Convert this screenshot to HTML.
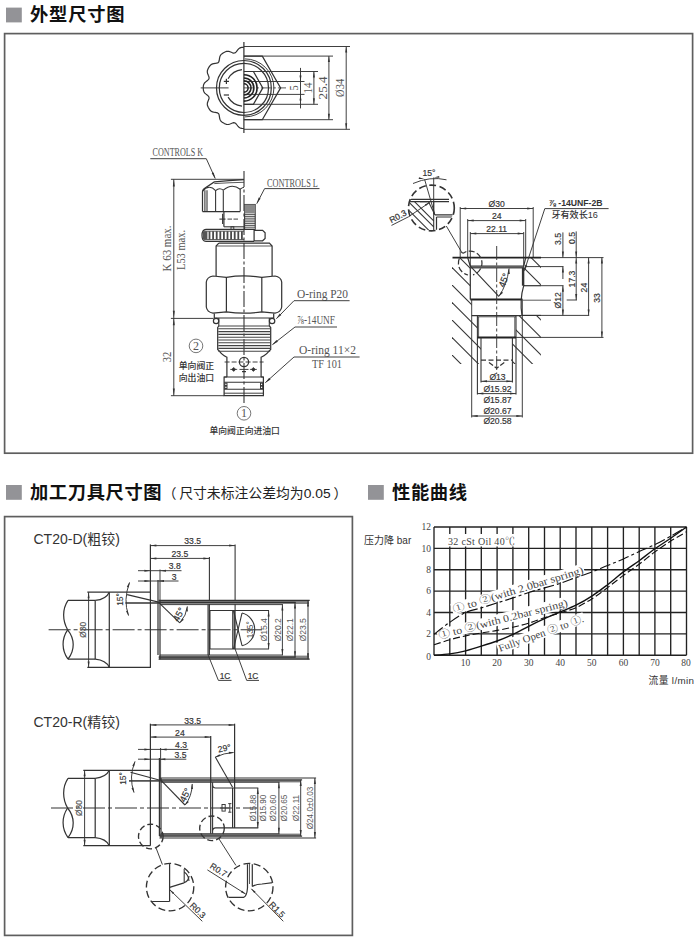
<!DOCTYPE html>
<html lang="zh"><head><meta charset="utf-8"><title>外型尺寸图</title>
<style>html,body{margin:0;padding:0;background:#fff}svg{display:block}</style></head>
<body><svg width="700" height="945" viewBox="0 0 700 945">
<rect width="700" height="945" fill="#fff"/>
<rect x="4.6" y="33.6" width="688.0" height="419.6" rx="0" fill="none" stroke="#5e5e5e" stroke-width="1.69"/>
<rect x="4.6" y="516.6" width="347.8" height="418.8" rx="0" fill="none" stroke="#5e5e5e" stroke-width="1.69"/>
<rect x="6" y="7.6" width="15.8" height="14.8" fill="#939397"/>
<rect x="6" y="485" width="15.8" height="14.8" fill="#939397"/>
<rect x="368" y="485" width="15.8" height="14.8" fill="#939397"/>
<text x="30.0" y="21.0" font-family='"Liberation Sans","Noto Sans CJK SC",sans-serif' font-size="18.3" text-anchor="start" fill="#111" font-weight="bold" letter-spacing="0.8">外型尺寸图</text>
<text x="30.0" y="499.2" font-family='"Liberation Sans","Noto Sans CJK SC",sans-serif' font-size="18.3" text-anchor="start" fill="#111" font-weight="bold" letter-spacing="0.6">加工刀具尺寸图</text>
<text x="162.8" y="497.5" font-family='"Liberation Sans","Noto Sans CJK SC",sans-serif' font-size="13.7" text-anchor="start" fill="#222">（</text>
<text x="179.2" y="497.5" font-family='"Liberation Sans","Noto Sans CJK SC",sans-serif' font-size="13.7" text-anchor="start" fill="#222" textLength="151.4" lengthAdjust="spacingAndGlyphs">尺寸未标注公差均为0.05</text>
<text x="333.6" y="497.5" font-family='"Liberation Sans","Noto Sans CJK SC",sans-serif' font-size="13.7" text-anchor="start" fill="#222">）</text>
<text x="392.0" y="499.2" font-family='"Liberation Sans","Noto Sans CJK SC",sans-serif' font-size="18.3" text-anchor="start" fill="#111" font-weight="bold" letter-spacing="0.6">性能曲线</text>
<line x1="434.0" y1="527.0" x2="434.0" y2="655.2" stroke="#222" stroke-width="1.35"/>
<line x1="449.8" y1="527.0" x2="449.8" y2="655.2" stroke="#222" stroke-width="1.35"/>
<line x1="465.6" y1="527.0" x2="465.6" y2="655.2" stroke="#222" stroke-width="1.35"/>
<line x1="481.3" y1="527.0" x2="481.3" y2="655.2" stroke="#222" stroke-width="1.35"/>
<line x1="497.1" y1="527.0" x2="497.1" y2="655.2" stroke="#222" stroke-width="1.35"/>
<line x1="512.9" y1="527.0" x2="512.9" y2="655.2" stroke="#222" stroke-width="1.35"/>
<line x1="528.7" y1="527.0" x2="528.7" y2="655.2" stroke="#222" stroke-width="1.35"/>
<line x1="544.5" y1="527.0" x2="544.5" y2="655.2" stroke="#222" stroke-width="1.35"/>
<line x1="560.2" y1="527.0" x2="560.2" y2="655.2" stroke="#222" stroke-width="1.35"/>
<line x1="576.0" y1="527.0" x2="576.0" y2="655.2" stroke="#222" stroke-width="1.35"/>
<line x1="591.8" y1="527.0" x2="591.8" y2="655.2" stroke="#222" stroke-width="1.35"/>
<line x1="607.6" y1="527.0" x2="607.6" y2="655.2" stroke="#222" stroke-width="1.35"/>
<line x1="623.4" y1="527.0" x2="623.4" y2="655.2" stroke="#222" stroke-width="1.35"/>
<line x1="639.2" y1="527.0" x2="639.2" y2="655.2" stroke="#222" stroke-width="1.35"/>
<line x1="654.9" y1="527.0" x2="654.9" y2="655.2" stroke="#222" stroke-width="1.35"/>
<line x1="670.7" y1="527.0" x2="670.7" y2="655.2" stroke="#222" stroke-width="1.35"/>
<line x1="686.5" y1="527.0" x2="686.5" y2="655.2" stroke="#222" stroke-width="1.35"/>
<line x1="434.0" y1="655.2" x2="686.5" y2="655.2" stroke="#222" stroke-width="1.35"/>
<line x1="434.0" y1="633.8" x2="686.5" y2="633.8" stroke="#222" stroke-width="1.35"/>
<line x1="434.0" y1="612.5" x2="686.5" y2="612.5" stroke="#222" stroke-width="1.35"/>
<line x1="434.0" y1="591.1" x2="686.5" y2="591.1" stroke="#222" stroke-width="1.35"/>
<line x1="434.0" y1="569.7" x2="686.5" y2="569.7" stroke="#222" stroke-width="1.35"/>
<line x1="434.0" y1="548.4" x2="686.5" y2="548.4" stroke="#222" stroke-width="1.35"/>
<line x1="434.0" y1="527.0" x2="686.5" y2="527.0" stroke="#222" stroke-width="1.35"/>
<text x="431.0" y="659.9" font-family='"Liberation Serif","Noto Serif CJK SC",serif' font-size="9.5" text-anchor="end" fill="#444">0</text>
<text x="431.0" y="637.0" font-family='"Liberation Serif","Noto Serif CJK SC",serif' font-size="9.5" text-anchor="end" fill="#444">2</text>
<text x="431.0" y="615.7" font-family='"Liberation Serif","Noto Serif CJK SC",serif' font-size="9.5" text-anchor="end" fill="#444">4</text>
<text x="431.0" y="594.3" font-family='"Liberation Serif","Noto Serif CJK SC",serif' font-size="9.5" text-anchor="end" fill="#444">6</text>
<text x="431.0" y="572.9" font-family='"Liberation Serif","Noto Serif CJK SC",serif' font-size="9.5" text-anchor="end" fill="#444">8</text>
<text x="431.0" y="551.6" font-family='"Liberation Serif","Noto Serif CJK SC",serif' font-size="9.5" text-anchor="end" fill="#444">10</text>
<text x="431.0" y="530.2" font-family='"Liberation Serif","Noto Serif CJK SC",serif' font-size="9.5" text-anchor="end" fill="#444">12</text>
<text x="465.6" y="666.0" font-family='"Liberation Serif","Noto Serif CJK SC",serif' font-size="9.5" text-anchor="middle" fill="#444">10</text>
<text x="497.1" y="666.0" font-family='"Liberation Serif","Noto Serif CJK SC",serif' font-size="9.5" text-anchor="middle" fill="#444">20</text>
<text x="528.7" y="666.0" font-family='"Liberation Serif","Noto Serif CJK SC",serif' font-size="9.5" text-anchor="middle" fill="#444">30</text>
<text x="560.2" y="666.0" font-family='"Liberation Serif","Noto Serif CJK SC",serif' font-size="9.5" text-anchor="middle" fill="#444">40</text>
<text x="591.8" y="666.0" font-family='"Liberation Serif","Noto Serif CJK SC",serif' font-size="9.5" text-anchor="middle" fill="#444">50</text>
<text x="623.4" y="666.0" font-family='"Liberation Serif","Noto Serif CJK SC",serif' font-size="9.5" text-anchor="middle" fill="#444">60</text>
<text x="654.9" y="666.0" font-family='"Liberation Serif","Noto Serif CJK SC",serif' font-size="9.5" text-anchor="middle" fill="#444">70</text>
<text x="686.0" y="666.0" font-family='"Liberation Serif","Noto Serif CJK SC",serif' font-size="9.5" text-anchor="middle" fill="#444">80</text>
<text x="364.0" y="543.8" font-family='"Liberation Sans","Noto Sans CJK SC",sans-serif' font-size="10" text-anchor="start" fill="#333">压力降 bar</text>
<text x="648.5" y="684.0" font-family='"Liberation Sans","Noto Sans CJK SC",sans-serif' font-size="9.8" text-anchor="start" fill="#333" letter-spacing="0.35">流量 l/min</text>
<rect x="444" y="534" width="74" height="12.5" fill="#fff"/>
<rect x="-1" y="-6" width="138" height="11.5" fill="#fff" transform="translate(453 609.5) rotate(-17.1)"/>
<rect x="-1" y="-6" width="135" height="11.5" fill="#fff" transform="translate(438.5 635.5) rotate(-14.4)"/>
<rect x="-1" y="-6" width="92" height="11.5" fill="#fff" transform="translate(498.7 648.5) rotate(-19.7)"/>
<path d="M434.0,655.2 C436.6,655.0 444.5,654.5 449.8,653.8 C455.0,653.1 460.3,652.1 465.6,650.8 C470.8,649.5 476.1,647.8 481.3,646.1 C486.6,644.5 491.9,642.9 497.1,641.0 C502.4,639.0 507.6,636.8 512.9,634.4 C518.2,631.9 523.4,629.0 528.7,626.4 C533.9,623.7 539.2,621.1 544.5,618.7 C549.7,616.3 555.0,614.2 560.2,611.9 C565.5,609.7 570.8,607.8 576.0,605.2 C581.3,602.6 586.6,599.5 591.8,596.1 C597.1,592.7 602.3,588.7 607.6,584.7 C612.9,580.6 618.1,575.9 623.4,571.9 C628.6,567.9 633.9,564.5 639.2,560.7 C644.4,556.8 649.7,552.5 654.9,548.8 C660.2,545.1 665.5,541.8 670.7,538.2 C676.0,534.6 683.9,528.9 686.5,527.0" fill="none" stroke="#111" stroke-width="1.35"/>
<path d="M434.0,644.8 C436.6,644.0 444.5,641.3 449.8,639.8 C455.0,638.3 460.3,637.0 465.6,635.9 C470.8,634.7 476.1,633.9 481.3,633.0 C486.6,632.1 491.9,631.4 497.1,630.4 C502.4,629.5 507.6,628.4 512.9,627.2 C518.2,626.0 523.4,624.7 528.7,623.2 C533.9,621.6 539.2,619.5 544.5,617.8 C549.7,616.1 555.0,614.5 560.2,612.8 C565.5,611.1 570.8,610.0 576.0,607.7 C581.3,605.3 586.6,602.2 591.8,598.9 C597.1,595.6 602.3,591.5 607.6,587.6 C612.9,583.7 618.1,579.3 623.4,575.4 C628.6,571.5 633.9,568.1 639.2,564.2 C644.4,560.3 649.7,555.7 654.9,551.9 C660.2,548.0 665.5,544.4 670.7,541.1 C676.0,537.8 683.9,533.4 686.5,531.8" fill="none" stroke="#111" stroke-width="1.15" stroke-dasharray="7 3"/>
<path d="M434.0,634.3 C436.6,632.3 444.5,625.9 449.8,622.3 C455.0,618.7 460.3,614.9 465.6,612.5 C470.8,610.1 476.1,609.5 481.3,607.9 C486.6,606.3 491.9,604.5 497.1,602.9 C502.4,601.2 507.6,599.7 512.9,597.9 C518.2,596.2 523.4,594.2 528.7,592.5 C533.9,590.8 539.2,589.4 544.5,587.9 C549.7,586.4 555.0,585.0 560.2,583.3 C565.5,581.6 570.8,579.4 576.0,577.5 C581.3,575.6 586.6,573.9 591.8,571.9 C597.1,569.9 602.3,567.6 607.6,565.5 C612.9,563.3 618.1,561.4 623.4,559.0 C628.6,556.7 633.9,554.0 639.2,551.6 C644.4,549.2 649.7,547.2 654.9,544.6 C660.2,542.1 665.5,539.1 670.7,536.2 C676.0,533.2 683.9,528.5 686.5,527.0" fill="none" stroke="#111" stroke-width="1.15" stroke-dasharray="11 3 3 3"/>
<text x="448.0" y="545.0" font-family='"Liberation Serif","Noto Serif CJK SC",serif' font-size="10" text-anchor="start" fill="#444" letter-spacing="0.3">32 cSt Oil 40℃</text>
<text x="0" y="3.6" font-family='"Liberation Serif","Noto Serif CJK SC",serif' font-size="10.5" fill="#444" textLength="136" lengthAdjust="spacingAndGlyphs" transform="translate(453 609.5) rotate(-17.1)">① to ②(with 2.0bar spring)</text>
<text x="0" y="3.6" font-family='"Liberation Serif","Noto Serif CJK SC",serif' font-size="10.5" fill="#444" textLength="133" lengthAdjust="spacingAndGlyphs" transform="translate(438.5 635.5) rotate(-14.4)">① to ②(with 0.2bar spring)</text>
<text x="0" y="3.6" font-family='"Liberation Serif","Noto Serif CJK SC",serif' font-size="10.5" fill="#444" textLength="90" lengthAdjust="spacingAndGlyphs" transform="translate(498.7 648.5) rotate(-19.7)">Fully Open ② to ①.</text>
<line x1="243.9" y1="46.5" x2="350.0" y2="46.5" stroke="#333" stroke-width="0.94"/>
<line x1="243.9" y1="56.1" x2="333.0" y2="56.1" stroke="#333" stroke-width="0.94"/>
<line x1="243.9" y1="71.5" x2="318.0" y2="71.5" stroke="#333" stroke-width="0.94"/>
<line x1="243.9" y1="81.5" x2="304.5" y2="81.5" stroke="#333" stroke-width="0.94"/>
<line x1="243.9" y1="94.4" x2="304.5" y2="94.4" stroke="#333" stroke-width="0.94"/>
<line x1="243.9" y1="104.3" x2="318.0" y2="104.3" stroke="#333" stroke-width="0.94"/>
<line x1="243.9" y1="119.7" x2="333.0" y2="119.7" stroke="#333" stroke-width="0.94"/>
<line x1="243.9" y1="129.3" x2="350.0" y2="129.3" stroke="#333" stroke-width="0.94"/>
<line x1="243.9" y1="42.0" x2="243.9" y2="133.0" stroke="#333" stroke-width="1.22"/>
<line x1="200.7" y1="87.9" x2="228.6" y2="87.9" stroke="#333" stroke-width="0.94"/>
<line x1="243.9" y1="87.9" x2="286.0" y2="87.9" stroke="#333" stroke-width="0.81" stroke-dasharray="10 2 3 2"/>
<path d="M243.9,47.3 L242.8,47.3 L241.8,47.4 L240.7,47.6 L239.7,48.1 L238.7,48.8 L237.9,49.7 L237.0,50.8 L236.2,51.8 L235.4,52.6 L234.6,53.0 L233.6,53.1 L232.5,52.8 L231.3,52.3 L230.0,51.8 L228.8,51.4 L227.6,51.3 L226.5,51.4 L225.5,51.8 L224.5,52.2 L223.6,52.7 L222.7,53.3 L221.8,53.9 L221.0,54.6 L220.4,55.5 L219.9,56.6 L219.6,57.8 L219.4,59.2 L219.2,60.5 L218.9,61.6 L218.4,62.4 L217.6,62.9 L216.5,63.2 L215.2,63.4 L213.8,63.6 L212.6,63.9 L211.5,64.4 L210.6,65.0 L209.9,65.8 L209.3,66.7 L208.7,67.6 L208.2,68.5 L207.8,69.5 L207.4,70.5 L207.3,71.6 L207.4,72.8 L207.8,74.0 L208.3,75.3 L208.8,76.5 L209.1,77.6 L209.0,78.6 L208.6,79.4 L207.8,80.2 L206.8,81.0 L205.7,81.9 L204.8,82.7 L204.1,83.7 L203.6,84.7 L203.4,85.8 L203.3,86.8 L203.3,87.9 L203.3,89.0 L203.4,90.0 L203.6,91.1 L204.1,92.1 L204.8,93.1 L205.7,93.9 L206.8,94.8 L207.8,95.6 L208.6,96.4 L209.0,97.2 L209.1,98.2 L208.8,99.3 L208.3,100.5 L207.8,101.8 L207.4,103.0 L207.3,104.2 L207.4,105.3 L207.8,106.3 L208.2,107.3 L208.7,108.2 L209.3,109.1 L209.9,110.0 L210.6,110.8 L211.5,111.4 L212.6,111.9 L213.8,112.2 L215.2,112.4 L216.5,112.6 L217.6,112.9 L218.4,113.4 L218.9,114.2 L219.2,115.3 L219.4,116.6 L219.6,118.0 L219.9,119.2 L220.4,120.3 L221.0,121.2 L221.8,121.9 L222.7,122.5 L223.6,123.1 L224.5,123.6 L225.5,124.0 L226.5,124.4 L227.6,124.5 L228.8,124.4 L230.0,124.0 L231.3,123.5 L232.5,123.0 L233.6,122.7 L234.6,122.8 L235.4,123.2 L236.2,124.0 L237.0,125.0 L237.9,126.1 L238.7,127.0 L239.7,127.7 L240.7,128.2 L241.8,128.4 L242.8,128.5 L243.9,128.5" fill="none" stroke="#333" stroke-width="1.2" stroke-linejoin="round"/>
<circle cx="243.9" cy="87.9" r="27.4" fill="none" stroke="#333" stroke-width="1.22"/>
<circle cx="243.9" cy="87.9" r="24.6" fill="none" stroke="#333" stroke-width="1.22"/>
<path d="M244.9,58.9 A29,29 0 0 1 244.9,116.9" fill="none" stroke="#333" stroke-width="0.94"/>
<path d="M242.0,69.7 A18.3,18.3 0 0 0 228.1,78.8" fill="none" stroke="#333" stroke-width="1.22"/>
<path d="M228.1,97.1 A18.3,18.3 0 0 0 242.0,106.1" fill="none" stroke="#333" stroke-width="1.22"/>
<line x1="223.8" y1="81.4" x2="229.0" y2="81.4" stroke="#333" stroke-width="1.22"/>
<line x1="226.4" y1="78.8" x2="226.4" y2="84.0" stroke="#333" stroke-width="1.22"/>
<line x1="223.8" y1="95.0" x2="229.0" y2="95.0" stroke="#333" stroke-width="1.22"/>
<path d="M243.9,56.1 L262.3,56.1 L280.6,87.9 L262.3,119.7 L243.9,119.7" fill="none" stroke="#333" stroke-width="1.22"/>
<path d="M243.9,71.5 L253.4,71.5 L262.8,87.9 L253.4,104.3 L243.9,104.3" fill="none" stroke="#333" stroke-width="1.22"/>
<path d="M243.9,83.7 A4.2,4.2 0 0 1 243.9,92.1" fill="none" stroke="#222" stroke-width="1.55"/>
<path d="M243.9,80.8 A7.1,7.1 0 0 1 243.9,95.0" fill="none" stroke="#222" stroke-width="1.55"/>
<path d="M243.9,77.9 A10,10 0 0 1 243.9,97.9" fill="none" stroke="#222" stroke-width="1.55"/>
<path d="M243.9,74.7 A13.2,13.2 0 0 1 243.9,101.1" fill="none" stroke="#222" stroke-width="1.55"/>
<line x1="300.5" y1="67.9" x2="300.5" y2="108.4" stroke="#333" stroke-width="0.94"/>
<polygon points="300.5,81.5 299.5,75.5 301.5,75.5" fill="#333"/>
<polygon points="300.5,94.4 301.5,100.4 299.5,100.4" fill="#333"/>
<line x1="313.9" y1="71.5" x2="313.9" y2="104.3" stroke="#333" stroke-width="0.94"/>
<polygon points="313.9,71.5 314.9,77.5 312.9,77.5" fill="#333"/>
<polygon points="313.9,104.3 312.9,98.3 314.9,98.3" fill="#333"/>
<line x1="328.9" y1="56.1" x2="328.9" y2="119.7" stroke="#333" stroke-width="0.94"/>
<polygon points="328.9,56.1 329.9,62.1 327.9,62.1" fill="#333"/>
<polygon points="328.9,119.7 327.9,113.7 329.9,113.7" fill="#333"/>
<line x1="346.2" y1="46.5" x2="346.2" y2="129.3" stroke="#333" stroke-width="0.94"/>
<polygon points="346.2,46.5 347.2,52.5 345.2,52.5" fill="#333"/>
<polygon points="346.2,129.3 345.2,123.3 347.2,123.3" fill="#333"/>
<text x="0" y="0" font-family='"Liberation Serif","Noto Serif CJK SC",serif' font-size="11" text-anchor="middle" fill="#555" transform="translate(298.3 87.9) rotate(-90) scale(1 1.1)">5</text>
<text x="0" y="0" font-family='"Liberation Serif","Noto Serif CJK SC",serif' font-size="11" text-anchor="middle" fill="#555" transform="translate(311.6 87.9) rotate(-90) scale(1 1.1)">14</text>
<text x="0" y="0" font-family='"Liberation Serif","Noto Serif CJK SC",serif' font-size="11" text-anchor="middle" fill="#555" textLength="23.0" lengthAdjust="spacingAndGlyphs" transform="translate(326.8 87.9) rotate(-90) scale(1 1.1)">25.4</text>
<text x="0" y="0" font-family='"Liberation Serif","Noto Serif CJK SC",serif' font-size="11" text-anchor="middle" fill="#555" textLength="18.0" lengthAdjust="spacingAndGlyphs" transform="translate(344.2 87.9) rotate(-90) scale(1 1.1)">Ø34</text>
<line x1="244.0" y1="171.0" x2="244.0" y2="403.0" stroke="#333" stroke-width="1.08" stroke-dasharray="16 2.5 3 2.5"/>
<text x="0" y="0" font-family='"Liberation Serif","Noto Serif CJK SC",serif' font-size="10.5" text-anchor="start" fill="#555" textLength="50.5" lengthAdjust="spacingAndGlyphs" transform="translate(152.6 155.5) scale(1 1.15)">CONTROLS K</text>
<line x1="150.3" y1="158.7" x2="206.3" y2="158.7" stroke="#333" stroke-width="0.94"/>
<line x1="206.3" y1="158.7" x2="215.2" y2="178.4" stroke="#333" stroke-width="0.94"/>
<polygon points="215.4,178.9 211.7,173.3 213.7,172.4" fill="#333"/>
<text x="0" y="0" font-family='"Liberation Serif","Noto Serif CJK SC",serif' font-size="10.5" text-anchor="start" fill="#555" textLength="51.0" lengthAdjust="spacingAndGlyphs" transform="translate(266.9 186.5) scale(1 1.15)">CONTROLS L</text>
<line x1="264.6" y1="188.6" x2="319.5" y2="188.6" stroke="#333" stroke-width="0.94"/>
<line x1="264.6" y1="188.6" x2="256.8" y2="203.6" stroke="#333" stroke-width="0.94"/>
<polygon points="256.6,204.0 258.7,197.6 260.6,198.6" fill="#333"/>
<line x1="170.9" y1="179.3" x2="244.0" y2="179.3" stroke="#333" stroke-width="0.94"/>
<line x1="170.9" y1="318.4" x2="213.5" y2="318.4" stroke="#333" stroke-width="0.94"/>
<line x1="170.9" y1="395.7" x2="224.0" y2="395.7" stroke="#333" stroke-width="0.94"/>
<line x1="173.8" y1="179.3" x2="173.8" y2="318.0" stroke="#333" stroke-width="0.94"/>
<polygon points="173.8,179.3 174.8,186.5 172.8,186.5" fill="#333"/>
<polygon points="173.8,318.0 172.8,310.8 174.8,310.8" fill="#333"/>
<line x1="173.8" y1="318.0" x2="173.8" y2="395.7" stroke="#333" stroke-width="0.94"/>
<polygon points="173.8,318.0 174.8,325.2 172.8,325.2" fill="#333"/>
<polygon points="173.8,395.7 172.8,388.5 174.8,388.5" fill="#333"/>
<text x="0" y="0" font-family='"Liberation Serif","Noto Serif CJK SC",serif' font-size="10.5" text-anchor="middle" fill="#555" textLength="46.0" lengthAdjust="spacingAndGlyphs" transform="translate(171.2 248.5) rotate(-90) scale(1 1.15)">K 63 max.</text>
<text x="0" y="0" font-family='"Liberation Serif","Noto Serif CJK SC",serif' font-size="10.5" text-anchor="middle" fill="#555" textLength="40.0" lengthAdjust="spacingAndGlyphs" transform="translate(185.0 250.0) rotate(-90) scale(1 1.15)">L53 max.</text>
<text x="0" y="0" font-family='"Liberation Serif","Noto Serif CJK SC",serif' font-size="10.5" text-anchor="middle" fill="#555" transform="translate(171.2 357.0) rotate(-90) scale(1 1.15)">32</text>
<path d="M202.5,211.6 L202.5,191.5 Q202.6,189.8 204,188.8 L214.3,181.9 Q229,180.3 244,179.6" fill="none" stroke="#333" stroke-width="1.22"/>
<path d="M214.3,183.6 Q229,182.6 244,182.3" fill="none" stroke="#333" stroke-width="0.81"/>
<line x1="202.5" y1="211.6" x2="240.2" y2="211.6" stroke="#333" stroke-width="1.22"/>
<line x1="204.9" y1="190.2" x2="204.9" y2="211.6" stroke="#333" stroke-width="1.08"/>
<line x1="207.0" y1="190.2" x2="207.0" y2="211.6" stroke="#333" stroke-width="1.08"/>
<line x1="215.6" y1="190.2" x2="215.6" y2="211.6" stroke="#333" stroke-width="1.08"/>
<line x1="223.3" y1="190.2" x2="223.3" y2="211.6" stroke="#333" stroke-width="1.08"/>
<line x1="240.2" y1="189.0" x2="240.2" y2="211.6" stroke="#333" stroke-width="1.08"/>
<path d="M202.5,191.5 Q209,183.6 215.6,190.6" fill="none" stroke="#333" stroke-width="1.08"/>
<path d="M215.6,190.6 Q219.5,187 223.3,190.2" fill="none" stroke="#333" stroke-width="1.08"/>
<path d="M223.3,190.2 Q231.8,182.8 240.2,189.2" fill="none" stroke="#333" stroke-width="1.08"/>
<path d="M240.2,189.2 Q242.3,187.4 244,187.2" fill="none" stroke="#333" stroke-width="1.08"/>
<line x1="223.9" y1="211.6" x2="223.9" y2="226.8" stroke="#333" stroke-width="1.22"/>
<line x1="223.9" y1="226.8" x2="244.0" y2="226.8" stroke="#333" stroke-width="1.08"/>
<line x1="219.4" y1="219.1" x2="225.5" y2="219.1" stroke="#333" stroke-width="1.08"/>
<line x1="227.5" y1="219.1" x2="238.0" y2="219.1" stroke="#333" stroke-width="0.94" stroke-dasharray="4.5 1.5"/>
<line x1="222.6" y1="213.8" x2="222.6" y2="224.0" stroke="#333" stroke-width="1.08"/>
<rect x="231.0" y="226.8" width="2.8" height="2.6" rx="0" fill="none" stroke="#333" stroke-width="0.94"/>
<path d="M254.1,229.4 L206,229.4 Q202,229.6 202,235.4 Q202,241.2 206,241.4 L254.1,241.4" fill="none" stroke="#333" stroke-width="1.22"/>
<line x1="204.0" y1="231.2" x2="244.0" y2="231.2" stroke="#333" stroke-width="0.81"/>
<line x1="204.0" y1="239.6" x2="244.0" y2="239.6" stroke="#333" stroke-width="0.81"/>
<rect x="202.8" y="231.2" width="4.6" height="8.4" fill="#555"/>
<rect x="208.6" y="231.2" width="1.8" height="8.4" fill="#4a4a4a"/>
<rect x="212.2" y="231.2" width="1.8" height="8.4" fill="#4a4a4a"/>
<rect x="215.8" y="231.2" width="1.8" height="8.4" fill="#4a4a4a"/>
<rect x="219.4" y="231.2" width="1.8" height="8.4" fill="#4a4a4a"/>
<rect x="223.0" y="231.2" width="1.8" height="8.4" fill="#4a4a4a"/>
<rect x="226.6" y="231.2" width="1.8" height="8.4" fill="#4a4a4a"/>
<rect x="230.2" y="231.2" width="1.8" height="8.4" fill="#4a4a4a"/>
<rect x="233.8" y="231.2" width="1.8" height="8.4" fill="#4a4a4a"/>
<rect x="237.4" y="231.2" width="1.8" height="8.4" fill="#4a4a4a"/>
<rect x="241.0" y="231.2" width="1.8" height="8.4" fill="#4a4a4a"/>
<rect x="244.6" y="204.5" width="10.6" height="24.9" rx="0" fill="none" stroke="#333" stroke-width="1.08"/>
<rect x="244.6" y="204.5" width="10.6" height="9" fill="#8a8a8a"/>
<line x1="244.6" y1="214.6" x2="255.2" y2="214.6" stroke="#444" stroke-width="0.94"/>
<line x1="244.6" y1="216.4" x2="255.2" y2="216.4" stroke="#444" stroke-width="0.94"/>
<line x1="244.6" y1="218.2" x2="255.2" y2="218.2" stroke="#444" stroke-width="0.94"/>
<line x1="244.6" y1="220.0" x2="255.2" y2="220.0" stroke="#444" stroke-width="0.94"/>
<line x1="244.6" y1="221.8" x2="255.2" y2="221.8" stroke="#444" stroke-width="0.94"/>
<line x1="244.6" y1="223.6" x2="255.2" y2="223.6" stroke="#444" stroke-width="0.94"/>
<line x1="244.6" y1="225.4" x2="255.2" y2="225.4" stroke="#444" stroke-width="0.94"/>
<line x1="244.6" y1="227.2" x2="255.2" y2="227.2" stroke="#444" stroke-width="0.94"/>
<path d="M254.1,229.4 L254.1,241.4 M254.1,230.4 L262.6,230.4 L265.1,232.8 L265.1,238.4 L262.6,240.8 L254.1,240.8" fill="none" stroke="#333" stroke-width="1.22"/>
<path d="M218.8,243.2 L269.4,243.2 L272.1,246 L272.1,276 M216.1,276 L216.1,246 L218.8,243.2" fill="none" stroke="#333" stroke-width="1.22"/>
<line x1="216.1" y1="246.0" x2="272.1" y2="246.0" stroke="#333" stroke-width="0.81"/>
<path d="M206.3,282 Q207,277 213,276 L226.4,277.3 Q244,274.6 261.8,277.3 L275,276 Q281,277 281.7,282 L281.7,307 Q281,312 275,313.2 L261.8,311.8 Q244,314.6 226.4,311.8 L213,313.2 Q207,312 206.3,307 Z" fill="none" stroke="#333" stroke-width="1.22"/>
<line x1="226.4" y1="277.3" x2="226.4" y2="311.8" stroke="#333" stroke-width="1.22"/>
<line x1="261.8" y1="277.3" x2="261.8" y2="311.8" stroke="#333" stroke-width="1.22"/>
<path d="M214.3,313.4 L214.3,318 L273.7,318 L273.7,313.4" fill="none" stroke="#333" stroke-width="1.22"/>
<circle cx="216.1" cy="321.0" r="2.7" fill="#fff" stroke="#333" stroke-width="1.22"/>
<circle cx="272.1" cy="321.0" r="2.7" fill="#fff" stroke="#333" stroke-width="1.22"/>
<line x1="218.8" y1="318.0" x2="218.8" y2="326.0" stroke="#333" stroke-width="1.08"/>
<line x1="269.3" y1="318.0" x2="269.3" y2="326.0" stroke="#333" stroke-width="1.08"/>
<path d="M218.8,326 L217.7,327.5 L217.7,349.5 L219.5,351.2 M269.3,326 L270.7,327.5 L270.7,349.5 L268.8,351.2" fill="none" stroke="#333" stroke-width="1.22"/>
<line x1="218.3" y1="326.0" x2="270.2" y2="326.0" stroke="#444" stroke-width="1.08"/>
<line x1="218.3" y1="328.8" x2="270.2" y2="328.8" stroke="#444" stroke-width="1.08"/>
<line x1="218.3" y1="331.6" x2="270.2" y2="331.6" stroke="#444" stroke-width="1.08"/>
<line x1="218.3" y1="334.4" x2="270.2" y2="334.4" stroke="#444" stroke-width="1.08"/>
<line x1="218.3" y1="337.2" x2="270.2" y2="337.2" stroke="#444" stroke-width="1.08"/>
<line x1="218.3" y1="340.0" x2="270.2" y2="340.0" stroke="#444" stroke-width="1.08"/>
<line x1="218.3" y1="342.8" x2="270.2" y2="342.8" stroke="#444" stroke-width="1.08"/>
<line x1="218.3" y1="345.6" x2="270.2" y2="345.6" stroke="#444" stroke-width="1.08"/>
<line x1="218.3" y1="348.4" x2="270.2" y2="348.4" stroke="#444" stroke-width="1.08"/>
<line x1="218.3" y1="351.2" x2="270.2" y2="351.2" stroke="#444" stroke-width="1.08"/>
<path d="M219.5,351.2 Q221,354 226.9,357.2 L226.9,377 M268.8,351.2 Q267.3,354 261.1,357.2 L261.1,377" fill="none" stroke="#333" stroke-width="1.22"/>
<circle cx="244.0" cy="362.0" r="4.6" fill="none" stroke="#333" stroke-width="1.22"/>
<line x1="224.6" y1="362.0" x2="263.6" y2="362.0" stroke="#333" stroke-width="0.94" stroke-dasharray="5 2"/>
<path d="M231.7,369.4 L233.7,367.4 L235.7,369.4 L233.7,371.4 Z" fill="#333" stroke="#333" stroke-width="0.68"/>
<line x1="230.2" y1="369.4" x2="237.2" y2="369.4" stroke="#333" stroke-width="0.81"/>
<path d="M251.4,369.4 L253.4,367.4 L255.4,369.4 L253.4,371.4 Z" fill="#333" stroke="#333" stroke-width="0.68"/>
<line x1="249.9" y1="369.4" x2="256.9" y2="369.4" stroke="#333" stroke-width="0.81"/>
<line x1="239.5" y1="369.4" x2="248.5" y2="369.4" stroke="#333" stroke-width="0.94"/>
<line x1="242.0" y1="371.6" x2="246.0" y2="371.6" stroke="#333" stroke-width="1.22"/>
<path d="M226.9,377 L224.1,377 L224.1,395.7 L263.4,395.7 L263.4,377 L261.1,377" fill="none" stroke="#333" stroke-width="1.22"/>
<line x1="224.1" y1="377.0" x2="263.4" y2="377.0" stroke="#333" stroke-width="1.08"/>
<line x1="224.1" y1="393.2" x2="263.4" y2="393.2" stroke="#333" stroke-width="0.94"/>
<line x1="224.1" y1="382.2" x2="263.4" y2="382.2" stroke="#333" stroke-width="1.08"/>
<line x1="224.1" y1="389.3" x2="263.4" y2="389.3" stroke="#333" stroke-width="1.08"/>
<rect x="224.8" y="383.2" width="2.2" height="2.3" rx="0" fill="none" stroke="#333" stroke-width="0.94"/>
<rect x="224.8" y="386.2" width="2.2" height="2.3" rx="0" fill="none" stroke="#333" stroke-width="0.94"/>
<rect x="260.5" y="383.2" width="2.2" height="2.3" rx="0" fill="none" stroke="#333" stroke-width="0.94"/>
<rect x="260.5" y="386.2" width="2.2" height="2.3" rx="0" fill="none" stroke="#333" stroke-width="0.94"/>
<circle cx="196.0" cy="345.9" r="6.8" fill="none" stroke="#555" stroke-width="0.81"/>
<text x="196.0" y="350.0" font-family='"Liberation Serif","Noto Serif CJK SC",serif' font-size="12" text-anchor="middle" fill="#555">2</text>
<circle cx="244.0" cy="413.3" r="6.8" fill="none" stroke="#555" stroke-width="0.81"/>
<text x="244.0" y="417.4" font-family='"Liberation Serif","Noto Serif CJK SC",serif' font-size="12" text-anchor="middle" fill="#555">1</text>
<text x="178.7" y="369.3" font-family='"Liberation Sans","Noto Sans CJK SC",sans-serif' font-size="8.9" text-anchor="start" fill="#333" font-weight="500">单向阀正</text>
<text x="178.7" y="380.8" font-family='"Liberation Sans","Noto Sans CJK SC",sans-serif' font-size="8.9" text-anchor="start" fill="#333" font-weight="500">向出油口</text>
<text x="209.5" y="434.3" font-family='"Liberation Sans","Noto Sans CJK SC",sans-serif' font-size="8.8" text-anchor="start" fill="#333" font-weight="500">单向阀正向进油口</text>
<text x="0" y="0" font-family='"Liberation Serif","Noto Serif CJK SC",serif' font-size="11" text-anchor="start" fill="#555" textLength="51.0" lengthAdjust="spacingAndGlyphs" transform="translate(297.0 298.0) scale(1 1.15)">O-ring P20</text>
<line x1="294.0" y1="300.7" x2="349.6" y2="300.7" stroke="#333" stroke-width="0.94"/>
<line x1="294.0" y1="300.7" x2="276.5" y2="318.6" stroke="#333" stroke-width="0.94"/>
<polygon points="276.0,319.0 279.8,313.5 281.4,315.0" fill="#333"/>
<text x="0" y="0" font-family='"Liberation Serif","Noto Serif CJK SC",serif' font-size="11" text-anchor="start" fill="#555" textLength="38.0" lengthAdjust="spacingAndGlyphs" transform="translate(297.0 324.2) scale(1 1.15)">⅞-14UNF</text>
<line x1="295.0" y1="327.0" x2="337.0" y2="327.0" stroke="#333" stroke-width="0.94"/>
<line x1="295.0" y1="327.0" x2="272.5" y2="344.6" stroke="#333" stroke-width="0.94"/>
<polygon points="272.0,345.0 276.5,340.1 277.9,341.8" fill="#333"/>
<text x="0" y="0" font-family='"Liberation Serif","Noto Serif CJK SC",serif' font-size="11" text-anchor="start" fill="#555" textLength="57.0" lengthAdjust="spacingAndGlyphs" transform="translate(299.0 354.0) scale(1 1.15)">O-ring 11×2</text>
<line x1="294.0" y1="357.0" x2="359.6" y2="357.0" stroke="#333" stroke-width="0.94"/>
<line x1="294.0" y1="357.0" x2="265.4" y2="382.6" stroke="#333" stroke-width="0.94"/>
<polygon points="265.0,383.0 269.2,377.8 270.6,379.4" fill="#333"/>
<text x="0" y="0" font-family='"Liberation Serif","Noto Serif CJK SC",serif' font-size="11" text-anchor="start" fill="#555" textLength="30.0" lengthAdjust="spacingAndGlyphs" transform="translate(312.0 368.3) scale(1 1.15)">TF 101</text>
<clipPath id="hl"><polygon points="452,258 467.7,258 470.3,266.5 470.3,299.4 471.7,299.4 471.7,315.6 477.4,315.6 477.4,337.4 481,337.4 481,364 452,364"/></clipPath>
<clipPath id="hr"><polygon points="525.7,258 541,258 541,285.7 523.7,285.7 523.7,266.5"/><polygon points="521.7,315.4 541,315.4 541,364 512.4,364 512.4,337.4 516,337.4 516,315.6"/></clipPath>
<g clip-path="url(#hl)">
<line x1="440.0" y1="220.5" x2="540.0" y2="320.5" stroke="#333" stroke-width="1.08"/>
<line x1="440.0" y1="238.0" x2="540.0" y2="338.0" stroke="#333" stroke-width="1.08"/>
<line x1="440.0" y1="255.5" x2="540.0" y2="355.5" stroke="#333" stroke-width="1.08"/>
<line x1="440.0" y1="273.0" x2="540.0" y2="373.0" stroke="#333" stroke-width="1.08"/>
<line x1="440.0" y1="290.5" x2="540.0" y2="390.5" stroke="#333" stroke-width="1.08"/>
<line x1="440.0" y1="308.0" x2="540.0" y2="408.0" stroke="#333" stroke-width="1.08"/>
<line x1="440.0" y1="325.5" x2="540.0" y2="425.5" stroke="#333" stroke-width="1.08"/>
<line x1="440.0" y1="343.0" x2="540.0" y2="443.0" stroke="#333" stroke-width="1.08"/>
</g>
<g clip-path="url(#hr)">
<line x1="440.0" y1="114.0" x2="560.0" y2="234.0" stroke="#333" stroke-width="1.08"/>
<line x1="440.0" y1="131.5" x2="560.0" y2="251.5" stroke="#333" stroke-width="1.08"/>
<line x1="440.0" y1="149.0" x2="560.0" y2="269.0" stroke="#333" stroke-width="1.08"/>
<line x1="440.0" y1="166.5" x2="560.0" y2="286.5" stroke="#333" stroke-width="1.08"/>
<line x1="440.0" y1="184.0" x2="560.0" y2="304.0" stroke="#333" stroke-width="1.08"/>
<line x1="440.0" y1="201.5" x2="560.0" y2="321.5" stroke="#333" stroke-width="1.08"/>
<line x1="440.0" y1="219.0" x2="560.0" y2="339.0" stroke="#333" stroke-width="1.08"/>
<line x1="440.0" y1="236.5" x2="560.0" y2="356.5" stroke="#333" stroke-width="1.08"/>
<line x1="440.0" y1="254.0" x2="560.0" y2="374.0" stroke="#333" stroke-width="1.08"/>
<line x1="440.0" y1="271.5" x2="560.0" y2="391.5" stroke="#333" stroke-width="1.08"/>
<line x1="440.0" y1="289.0" x2="560.0" y2="409.0" stroke="#333" stroke-width="1.08"/>
<line x1="440.0" y1="306.5" x2="560.0" y2="426.5" stroke="#333" stroke-width="1.08"/>
<line x1="440.0" y1="324.0" x2="560.0" y2="444.0" stroke="#333" stroke-width="1.08"/>
<line x1="440.0" y1="341.5" x2="560.0" y2="461.5" stroke="#333" stroke-width="1.08"/>
</g>
<line x1="460.2" y1="207.0" x2="460.2" y2="257.6" stroke="#333" stroke-width="0.94"/>
<line x1="533.2" y1="207.0" x2="533.2" y2="257.6" stroke="#333" stroke-width="0.94"/>
<line x1="467.7" y1="219.0" x2="467.7" y2="257.6" stroke="#333" stroke-width="0.94"/>
<line x1="525.7" y1="219.0" x2="525.7" y2="257.6" stroke="#333" stroke-width="0.94"/>
<line x1="470.3" y1="232.0" x2="470.3" y2="266.0" stroke="#333" stroke-width="0.94"/>
<line x1="523.7" y1="232.0" x2="523.7" y2="266.0" stroke="#333" stroke-width="0.94"/>
<line x1="460.2" y1="208.5" x2="533.2" y2="208.5" stroke="#333" stroke-width="0.94"/>
<polygon points="460.2,208.5 466.2,207.5 466.2,209.5" fill="#333"/>
<polygon points="533.2,208.5 527.2,209.5 527.2,207.5" fill="#333"/>
<text x="496.7" y="206.9" font-family='"Liberation Sans","Noto Sans CJK SC",sans-serif' font-size="8.6" text-anchor="middle" fill="#333" stroke="#333" stroke-width="0.18">Ø30</text>
<line x1="467.7" y1="220.6" x2="525.7" y2="220.6" stroke="#333" stroke-width="0.94"/>
<polygon points="467.7,220.6 473.7,219.6 473.7,221.6" fill="#333"/>
<polygon points="525.7,220.6 519.7,221.6 519.7,219.6" fill="#333"/>
<text x="496.7" y="219.2" font-family='"Liberation Sans","Noto Sans CJK SC",sans-serif' font-size="8.6" text-anchor="middle" fill="#333" stroke="#333" stroke-width="0.18">24</text>
<line x1="470.3" y1="233.6" x2="523.7" y2="233.6" stroke="#333" stroke-width="0.94"/>
<polygon points="470.3,233.6 476.3,232.6 476.3,234.6" fill="#333"/>
<polygon points="523.7,233.6 517.7,234.6 517.7,232.6" fill="#333"/>
<text x="496.7" y="232.2" font-family='"Liberation Sans","Noto Sans CJK SC",sans-serif' font-size="8.6" text-anchor="middle" fill="#333" stroke="#333" stroke-width="0.18">22.11</text>
<line x1="452.5" y1="257.6" x2="541.0" y2="257.6" stroke="#222" stroke-width="1.82"/>
<line x1="541.0" y1="257.6" x2="603.5" y2="257.6" stroke="#333" stroke-width="0.94"/>
<path d="M467.7,257.6 L470.3,266.2 L470.3,299.4 M525.7,257.6 L523.7,266.2 L523.7,285.7" fill="none" stroke="#333" stroke-width="1.22"/>
<line x1="470.3" y1="266.2" x2="523.7" y2="266.2" stroke="#333" stroke-width="1.22"/>
<line x1="470.3" y1="267.6" x2="523.7" y2="267.6" stroke="#555" stroke-width="1.76"/>
<line x1="522.9" y1="267.6" x2="522.9" y2="285.7" stroke="#333" stroke-width="2.03"/>
<line x1="470.3" y1="299.4" x2="522.5" y2="299.4" stroke="#222" stroke-width="2.03"/>
<line x1="471.7" y1="299.4" x2="471.7" y2="417.5" stroke="#333" stroke-width="0.94"/>
<line x1="522.3" y1="299.4" x2="522.3" y2="417.5" stroke="#333" stroke-width="0.94"/>
<line x1="471.7" y1="315.6" x2="521.7" y2="315.6" stroke="#333" stroke-width="1.22"/>
<line x1="477.4" y1="315.6" x2="477.4" y2="394.6" stroke="#333" stroke-width="1.08"/>
<line x1="516.0" y1="315.6" x2="516.0" y2="394.6" stroke="#333" stroke-width="1.08"/>
<line x1="478.6" y1="317.0" x2="478.6" y2="337.0" stroke="#333" stroke-width="0.81"/>
<line x1="514.8" y1="317.0" x2="514.8" y2="337.0" stroke="#333" stroke-width="0.81"/>
<line x1="477.4" y1="316.8" x2="516.0" y2="316.8" stroke="#333" stroke-width="0.81"/>
<line x1="477.4" y1="337.4" x2="516.0" y2="337.4" stroke="#222" stroke-width="2.03"/>
<line x1="481.0" y1="337.4" x2="481.0" y2="382.4" stroke="#333" stroke-width="1.08"/>
<line x1="512.4" y1="337.4" x2="512.4" y2="382.4" stroke="#333" stroke-width="1.08"/>
<line x1="481.0" y1="360.2" x2="512.4" y2="360.2" stroke="#333" stroke-width="1.22" stroke-dasharray="5 2.5"/>
<path d="M489,362.5 L496.7,368.2 L504.4,362.5" fill="none" stroke="#333" stroke-width="1.22" stroke-dasharray="5 2"/>
<line x1="523.7" y1="285.7" x2="541.0" y2="285.7" stroke="#333" stroke-width="1.22"/>
<line x1="521.7" y1="315.4" x2="541.0" y2="315.4" stroke="#333" stroke-width="1.22"/>
<path d="M523.7,285.7 Q519.5,300 522,315.4" fill="none" stroke="#333" stroke-width="1.22"/>
<line x1="496.7" y1="246.0" x2="496.7" y2="374.0" stroke="#333" stroke-width="0.94" stroke-dasharray="14 2.5 3 2.5"/>
<line x1="470.3" y1="266.2" x2="498.8" y2="296.4" stroke="#333" stroke-width="1.08"/>
<path d="M498.8,296.4 Q507,285 509,268.5" fill="none" stroke="#333" stroke-width="0.94"/>
<polygon points="509.1,268.0 509.8,274.0 507.8,273.9" fill="#333"/>
<polygon points="498.5,296.8 501.4,291.4 503.0,292.7" fill="#333"/>
<text x="506.8" y="281.5" font-family='"Liberation Sans","Noto Sans CJK SC",sans-serif' font-size="9.4" text-anchor="middle" fill="#333" transform="rotate(-68 506.8 281.5)" stroke="#333" stroke-width="0.18">45°</text>
<line x1="525.0" y1="266.6" x2="563.5" y2="266.6" stroke="#333" stroke-width="0.94"/>
<line x1="541.0" y1="285.7" x2="563.5" y2="285.7" stroke="#333" stroke-width="0.94"/>
<line x1="541.0" y1="315.4" x2="589.2" y2="315.4" stroke="#333" stroke-width="0.94"/>
<line x1="516.0" y1="337.4" x2="603.5" y2="337.4" stroke="#333" stroke-width="0.94"/>
<line x1="523.0" y1="300.2" x2="551.0" y2="300.2" stroke="#333" stroke-width="0.81"/>
<line x1="566.7" y1="300.0" x2="577.0" y2="300.0" stroke="#333" stroke-width="0.94"/>
<line x1="562.9" y1="232.4" x2="562.9" y2="257.6" stroke="#333" stroke-width="0.94"/>
<polygon points="562.9,257.6 561.9,251.6 563.9,251.6" fill="#333"/>
<line x1="562.9" y1="266.6" x2="562.9" y2="279.0" stroke="#333" stroke-width="0.94"/>
<polygon points="562.9,266.6 563.9,272.6 561.9,272.6" fill="#333"/>
<text x="561.2" y="239.0" font-family='"Liberation Sans","Noto Sans CJK SC",sans-serif' font-size="8.6" text-anchor="middle" fill="#333" transform="rotate(-90 561.2 239.0)" stroke="#333" stroke-width="0.18">3.5</text>
<line x1="576.2" y1="231.4" x2="576.2" y2="300.0" stroke="#333" stroke-width="0.94"/>
<polygon points="576.2,257.6 575.2,251.6 577.2,251.6" fill="#333"/>
<polygon points="576.2,258.6 577.2,263.4 575.2,263.4" fill="#333"/>
<polygon points="576.2,300.0 575.2,294.0 577.2,294.0" fill="#333"/>
<text x="574.6" y="238.0" font-family='"Liberation Sans","Noto Sans CJK SC",sans-serif' font-size="8.6" text-anchor="middle" fill="#333" transform="rotate(-90 574.6 238.0)" stroke="#333" stroke-width="0.18">0.5</text>
<text x="574.6" y="279.0" font-family='"Liberation Sans","Noto Sans CJK SC",sans-serif' font-size="8.6" text-anchor="middle" fill="#333" transform="rotate(-90 574.6 279.0)" stroke="#333" stroke-width="0.18">17.3</text>
<line x1="562.9" y1="285.7" x2="562.9" y2="315.4" stroke="#333" stroke-width="0.94"/>
<polygon points="562.9,285.7 563.9,291.7 561.9,291.7" fill="#333"/>
<polygon points="562.9,315.4 561.9,309.4 563.9,309.4" fill="#333"/>
<text x="561.2" y="300.3" font-family='"Liberation Sans","Noto Sans CJK SC",sans-serif' font-size="8.6" text-anchor="middle" fill="#333" transform="rotate(-90 561.2 300.3)" stroke="#333" stroke-width="0.18">Ø12</text>
<line x1="588.6" y1="257.6" x2="588.6" y2="315.4" stroke="#333" stroke-width="0.94"/>
<polygon points="588.6,257.6 589.6,263.6 587.6,263.6" fill="#333"/>
<polygon points="588.6,315.4 587.6,309.4 589.6,309.4" fill="#333"/>
<text x="587.0" y="287.6" font-family='"Liberation Sans","Noto Sans CJK SC",sans-serif' font-size="8.6" text-anchor="middle" fill="#333" transform="rotate(-90 587.0 287.6)" stroke="#333" stroke-width="0.18">24</text>
<line x1="601.9" y1="257.6" x2="601.9" y2="337.4" stroke="#333" stroke-width="0.94"/>
<polygon points="601.9,257.6 602.9,263.6 600.9,263.6" fill="#333"/>
<polygon points="601.9,337.4 600.9,331.4 602.9,331.4" fill="#333"/>
<text x="600.2" y="298.0" font-family='"Liberation Sans","Noto Sans CJK SC",sans-serif' font-size="8.6" text-anchor="middle" fill="#333" transform="rotate(-90 600.2 298.0)" stroke="#333" stroke-width="0.18">33</text>
<line x1="481.0" y1="381.3" x2="512.4" y2="381.3" stroke="#333" stroke-width="0.94"/>
<polygon points="481.0,381.3 487.0,380.3 487.0,382.3" fill="#333"/>
<polygon points="512.4,381.3 506.4,382.3 506.4,380.3" fill="#333"/>
<text x="497.5" y="379.6" font-family='"Liberation Sans","Noto Sans CJK SC",sans-serif' font-size="8.6" text-anchor="middle" fill="#333" stroke="#333" stroke-width="0.18">Ø13</text>
<line x1="477.4" y1="393.6" x2="516.0" y2="393.6" stroke="#333" stroke-width="0.94"/>
<polygon points="477.4,393.6 483.4,392.6 483.4,394.6" fill="#333"/>
<polygon points="516.0,393.6 510.0,394.6 510.0,392.6" fill="#333"/>
<text x="497.5" y="391.9" font-family='"Liberation Sans","Noto Sans CJK SC",sans-serif' font-size="8.6" text-anchor="middle" fill="#333" stroke="#333" stroke-width="0.18">Ø15.92</text>
<text x="497.5" y="403.0" font-family='"Liberation Sans","Noto Sans CJK SC",sans-serif' font-size="8.6" text-anchor="middle" fill="#333" stroke="#333" stroke-width="0.18">Ø15.87</text>
<line x1="471.7" y1="416.0" x2="522.3" y2="416.0" stroke="#333" stroke-width="0.94"/>
<polygon points="471.7,416.0 477.7,415.0 477.7,417.0" fill="#333"/>
<polygon points="522.3,416.0 516.3,417.0 516.3,415.0" fill="#333"/>
<text x="497.5" y="414.3" font-family='"Liberation Sans","Noto Sans CJK SC",sans-serif' font-size="8.6" text-anchor="middle" fill="#333" stroke="#333" stroke-width="0.18">Ø20.67</text>
<text x="497.5" y="424.4" font-family='"Liberation Sans","Noto Sans CJK SC",sans-serif' font-size="8.6" text-anchor="middle" fill="#333" stroke="#333" stroke-width="0.18">Ø20.58</text>
<text x="548.6" y="206.2" font-family='"Liberation Sans","Noto Sans CJK SC",sans-serif' font-size="8.6" text-anchor="start" fill="#333" font-weight="bold" textLength="54.0" lengthAdjust="spacingAndGlyphs">⅞ -14UNF-2B</text>
<line x1="544.8" y1="208.6" x2="608.6" y2="208.6" stroke="#333" stroke-width="0.94"/>
<line x1="544.8" y1="208.6" x2="524.4" y2="270.6" stroke="#333" stroke-width="0.94"/>
<polygon points="524.2,271.4 525.3,264.8 527.2,265.4" fill="#333"/>
<text x="551.4" y="217.8" font-family='"Liberation Sans","Noto Sans CJK SC",sans-serif' font-size="8.6" text-anchor="start" fill="#333" font-weight="500" textLength="46.5" lengthAdjust="spacingAndGlyphs">牙有效长16</text>
<circle cx="431.4" cy="208.0" r="22.9" fill="none" stroke="#333" stroke-width="1.62" stroke-dasharray="7 3.5"/>
<clipPath id="dc"><circle cx="431.4" cy="208" r="22.4"/></clipPath>
<g clip-path="url(#dc)">
<line x1="408.0" y1="199.4" x2="449.0" y2="199.4" stroke="#333" stroke-width="1.35"/>
<line x1="408.0" y1="201.7" x2="449.0" y2="201.7" stroke="#333" stroke-width="1.22"/>
<line x1="433.7" y1="201.7" x2="433.7" y2="232.0" stroke="#333" stroke-width="1.08"/>
<line x1="434.9" y1="214.8" x2="456.0" y2="214.8" stroke="#333" stroke-width="1.22"/>
<line x1="436.5" y1="217.0" x2="456.0" y2="217.0" stroke="#333" stroke-width="1.22"/>
<line x1="436.5" y1="217.0" x2="436.5" y2="232.0" stroke="#333" stroke-width="1.22"/>
<line x1="408.5" y1="201.7" x2="433.7" y2="226.9" stroke="#333" stroke-width="1.08"/>
<line x1="414.5" y1="201.7" x2="433.7" y2="220.9" stroke="#333" stroke-width="1.08"/>
<line x1="404.0" y1="205.5" x2="430.0" y2="231.5" stroke="#333" stroke-width="1.08"/>
<line x1="428.5" y1="201.7" x2="434.9" y2="214.8" stroke="#333" stroke-width="1.08"/>
<line x1="420.0" y1="201.7" x2="428.5" y2="201.7" stroke="#333" stroke-width="1.08"/>
</g>
<line x1="433.7" y1="177.5" x2="433.7" y2="214.0" stroke="#333" stroke-width="0.94"/>
<line x1="424.6" y1="179.4" x2="434.9" y2="214.8" stroke="#333" stroke-width="0.94"/>
<path d="M413,183.5 Q430,176 446.5,179.8" fill="none" stroke="#333" stroke-width="0.94"/>
<polygon points="424.2,179.1 418.7,179.1 419.0,177.2" fill="#333"/>
<polygon points="433.9,177.6 439.1,175.9 439.4,177.8" fill="#333"/>
<text x="429.0" y="175.5" font-family='"Liberation Sans","Noto Sans CJK SC",sans-serif' font-size="8.6" text-anchor="middle" fill="#333" stroke="#333" stroke-width="0.18">15°</text>
<text x="391.2" y="223.2" font-family='"Liberation Sans","Noto Sans CJK SC",sans-serif' font-size="8.6" text-anchor="start" fill="#333" transform="rotate(-27 391.2 223.2)" stroke="#333" stroke-width="0.18">R0.3</text>
<line x1="391.5" y1="225.4" x2="408.5" y2="216.8" stroke="#333" stroke-width="0.94"/>
<line x1="408.5" y1="216.8" x2="429.5" y2="202.5" stroke="#333" stroke-width="0.94"/>
<polygon points="429.8,202.3 425.9,206.1 424.8,204.5" fill="#333"/>
<line x1="446.3" y1="226.0" x2="461.2" y2="251.4" stroke="#333" stroke-width="0.94"/>
<path d="M461.2,251.4 Q462.5,254 464.5,252.6 Q466.5,251 468.5,251.2 A12,12 0 0 1 481.8,265 A12,12 0 0 1 473,274.8" fill="none" stroke="#333" stroke-width="1.22" stroke-dasharray="6 2.5"/>
<path d="M459.3,258.6 A12,12 0 0 0 468,275" fill="none" stroke="#333" stroke-width="1.22" stroke-dasharray="6 2.5"/>
<text x="33.5" y="544.0" font-family='"Liberation Sans","Noto Sans CJK SC",sans-serif' font-size="14" text-anchor="start" fill="#333">CT20-D(粗铰)</text>
<line x1="48.6" y1="629.8" x2="262.0" y2="629.8" stroke="#333" stroke-width="1.08" stroke-dasharray="22 3 4 3"/>
<path d="M68,600.4 L95.2,600.4 M68,659.2 L95.2,659.2" fill="none" stroke="#333" stroke-width="1.22"/>
<path d="M68,600.4 C62,609.4 62.5,620.8 67.6,629.8" fill="none" stroke="#333" stroke-width="1.22"/>
<path d="M67.6,629.8 C61.5,638.8 61.5,650.2 68,659.2" fill="none" stroke="#333" stroke-width="1.22"/>
<path d="M67.6,629.8 C75,638.8 75,650.2 68,659.2" fill="none" stroke="#333" stroke-width="1.22"/>
<line x1="87.3" y1="592.2" x2="150.4" y2="592.2" stroke="#333" stroke-width="1.22"/>
<line x1="87.3" y1="667.4" x2="150.4" y2="667.4" stroke="#333" stroke-width="1.22"/>
<line x1="88.6" y1="592.2" x2="88.6" y2="667.4" stroke="#333" stroke-width="0.94"/>
<polygon points="88.6,592.2 89.6,598.2 87.6,598.2" fill="#333"/>
<polygon points="88.6,667.4 87.6,661.4 89.6,661.4" fill="#333"/>
<line x1="95.2" y1="600.4" x2="95.2" y2="659.2" stroke="#333" stroke-width="1.22"/>
<line x1="109.3" y1="592.2" x2="109.3" y2="667.4" stroke="#333" stroke-width="1.22"/>
<path d="M95.2,600.4 Q106,599.4 109.3,592.2" fill="none" stroke="#333" stroke-width="1.22"/>
<path d="M95.2,659.2 Q106,660.2 109.3,667.4" fill="none" stroke="#333" stroke-width="1.22"/>
<text x="86.4" y="629.8" font-family='"Liberation Sans","Noto Sans CJK SC",sans-serif' font-size="8.4" text-anchor="middle" fill="#555" transform="rotate(-90 86.4 629.8)" stroke="#555" stroke-width="0.18">Ø30</text>
<line x1="150.4" y1="544.4" x2="150.4" y2="667.9" stroke="#333" stroke-width="1.22"/>
<line x1="150.4" y1="545.6" x2="235.1" y2="545.6" stroke="#333" stroke-width="0.94"/>
<polygon points="150.4,545.6 156.4,544.6 156.4,546.6" fill="#333"/>
<polygon points="235.1,545.6 229.1,546.6 229.1,544.6" fill="#333"/>
<text x="192.7" y="544.2" font-family='"Liberation Sans","Noto Sans CJK SC",sans-serif' font-size="8.6" text-anchor="middle" fill="#333" stroke="#333" stroke-width="0.18">33.5</text>
<line x1="150.4" y1="558.4" x2="209.4" y2="558.4" stroke="#333" stroke-width="0.94"/>
<polygon points="150.4,558.4 156.4,557.4 156.4,559.4" fill="#333"/>
<polygon points="209.4,558.4 203.4,559.4 203.4,557.4" fill="#333"/>
<text x="179.9" y="557.0" font-family='"Liberation Sans","Noto Sans CJK SC",sans-serif' font-size="8.6" text-anchor="middle" fill="#333" stroke="#333" stroke-width="0.18">23.5</text>
<line x1="235.1" y1="544.4" x2="235.1" y2="649.0" stroke="#333" stroke-width="1.08"/>
<line x1="209.4" y1="557.0" x2="209.4" y2="655.0" stroke="#333" stroke-width="1.08"/>
<line x1="138.0" y1="570.7" x2="181.5" y2="570.7" stroke="#333" stroke-width="0.94"/>
<polygon points="150.4,570.7 144.4,571.7 144.4,569.7" fill="#333"/>
<polygon points="160.0,570.7 166.0,569.7 166.0,571.7" fill="#333"/>
<text x="174.7" y="569.2" font-family='"Liberation Sans","Noto Sans CJK SC",sans-serif' font-size="8.6" text-anchor="middle" fill="#333" stroke="#333" stroke-width="0.18">3.8</text>
<line x1="138.0" y1="581.0" x2="178.5" y2="581.0" stroke="#333" stroke-width="0.94"/>
<polygon points="150.4,581.0 144.4,582.0 144.4,580.0" fill="#333"/>
<polygon points="158.0,581.0 164.0,580.0 164.0,582.0" fill="#333"/>
<text x="174.2" y="579.6" font-family='"Liberation Sans","Noto Sans CJK SC",sans-serif' font-size="8.6" text-anchor="middle" fill="#333" stroke="#333" stroke-width="0.18">3</text>
<line x1="160.0" y1="569.5" x2="160.0" y2="603.0" stroke="#333" stroke-width="0.94"/>
<line x1="158.0" y1="580.0" x2="158.0" y2="655.0" stroke="#333" stroke-width="1.22"/>
<line x1="127.1" y1="594.6" x2="159.7" y2="602.4" stroke="#333" stroke-width="1.08"/>
<line x1="125.4" y1="603.1" x2="159.7" y2="603.1" stroke="#333" stroke-width="1.49"/>
<path d="M129.5,582.5 Q123,600 128.5,615.5" fill="none" stroke="#333" stroke-width="0.94"/>
<polygon points="129.7,582.0 128.6,587.4 126.8,586.7" fill="#333"/>
<polygon points="128.7,616.0 126.0,611.2 127.7,610.6" fill="#333"/>
<line x1="126.2" y1="594.2" x2="127.2" y2="603.0" stroke="#333" stroke-width="0.00"/>
<text x="122.6" y="599.5" font-family='"Liberation Sans","Noto Sans CJK SC",sans-serif' font-size="8.4" text-anchor="middle" fill="#333" transform="rotate(-90 122.6 599.5)" stroke="#333" stroke-width="0.18">15°</text>
<rect x="159" y="600.4" width="150" height="3.6" fill="#858585"/>
<rect x="159" y="655.6" width="150" height="3.6" fill="#858585"/>
<line x1="158.6" y1="600.4" x2="309.7" y2="600.4" stroke="#333" stroke-width="1.22"/>
<line x1="158.6" y1="602.4" x2="295.7" y2="602.4" stroke="#333" stroke-width="1.22"/>
<line x1="158.6" y1="659.2" x2="309.7" y2="659.2" stroke="#333" stroke-width="1.22"/>
<line x1="158.6" y1="657.2" x2="295.7" y2="657.2" stroke="#333" stroke-width="1.22"/>
<line x1="160.0" y1="604.6" x2="283.0" y2="604.6" stroke="#333" stroke-width="0.94"/>
<line x1="160.0" y1="655.0" x2="283.0" y2="655.0" stroke="#333" stroke-width="0.94"/>
<line x1="160.0" y1="600.4" x2="160.0" y2="659.2" stroke="#333" stroke-width="1.22"/>
<line x1="208.1" y1="604.6" x2="208.1" y2="655.0" stroke="#333" stroke-width="1.22"/>
<line x1="209.9" y1="610.5" x2="209.9" y2="649.0" stroke="#333" stroke-width="1.22"/>
<line x1="209.9" y1="610.5" x2="269.0" y2="610.5" stroke="#333" stroke-width="1.08"/>
<line x1="209.9" y1="649.0" x2="269.0" y2="649.0" stroke="#333" stroke-width="1.08"/>
<line x1="232.8" y1="610.5" x2="232.8" y2="649.0" stroke="#333" stroke-width="1.22"/>
<line x1="234.3" y1="610.5" x2="234.3" y2="649.0" stroke="#333" stroke-width="1.08"/>
<line x1="233.5" y1="610.5" x2="242.0" y2="645.7" stroke="#333" stroke-width="1.08"/>
<line x1="233.5" y1="649.0" x2="242.0" y2="613.1" stroke="#333" stroke-width="1.08"/>
<path d="M242,613.1 A16.8,16.8 0 0 1 242,645.7" fill="none" stroke="#333" stroke-width="1.08"/>
<text x="253.4" y="629.8" font-family='"Liberation Sans","Noto Sans CJK SC",sans-serif' font-size="8.2" text-anchor="middle" fill="#444" font-weight="normal" transform="rotate(-90 253.4 629.8)">135°</text>
<line x1="158.6" y1="602.4" x2="179.8" y2="622.8" stroke="#333" stroke-width="1.08"/>
<path d="M187.3,606.5 Q186.5,615.5 179.8,622.8" fill="none" stroke="#333" stroke-width="0.94"/>
<polygon points="187.4,606.0 187.9,611.5 186.0,611.3" fill="#333"/>
<polygon points="179.5,623.2 182.4,618.6 183.8,619.8" fill="#333"/>
<text x="181.6" y="616.0" font-family='"Liberation Sans","Noto Sans CJK SC",sans-serif' font-size="9.4" text-anchor="middle" fill="#333" transform="rotate(-62 181.6 616.0)" stroke="#333" stroke-width="0.18">45°</text>
<line x1="268.6" y1="610.5" x2="268.6" y2="649.0" stroke="#333" stroke-width="0.94"/>
<polygon points="268.6,610.5 269.6,616.5 267.6,616.5" fill="#333"/>
<polygon points="268.6,649.0 267.6,643.0 269.6,643.0" fill="#333"/>
<text x="267.3" y="629.8" font-family='"Liberation Sans","Noto Sans CJK SC",sans-serif' font-size="8.6" text-anchor="middle" fill="#5a5a5a" font-weight="normal" transform="rotate(-90 267.3 629.8)">Ø15.4</text>
<line x1="282.4" y1="604.6" x2="282.4" y2="655.0" stroke="#333" stroke-width="0.94"/>
<polygon points="282.4,604.6 283.4,610.6 281.4,610.6" fill="#333"/>
<polygon points="282.4,655.0 281.4,649.0 283.4,649.0" fill="#333"/>
<text x="280.8" y="629.8" font-family='"Liberation Sans","Noto Sans CJK SC",sans-serif' font-size="8.6" text-anchor="middle" fill="#5a5a5a" font-weight="normal" transform="rotate(-90 280.8 629.8)">Ø20.2</text>
<line x1="295.0" y1="602.4" x2="295.0" y2="657.2" stroke="#333" stroke-width="0.94"/>
<polygon points="295.0,602.4 296.0,608.4 294.0,608.4" fill="#333"/>
<polygon points="295.0,657.2 294.0,651.2 296.0,651.2" fill="#333"/>
<text x="293.2" y="629.8" font-family='"Liberation Sans","Noto Sans CJK SC",sans-serif' font-size="8.6" text-anchor="middle" fill="#5a5a5a" font-weight="normal" transform="rotate(-90 293.2 629.8)">Ø22.1</text>
<line x1="308.0" y1="600.4" x2="308.0" y2="659.2" stroke="#333" stroke-width="0.94"/>
<polygon points="308.0,600.4 309.0,606.4 307.0,606.4" fill="#333"/>
<polygon points="308.0,659.2 307.0,653.2 309.0,653.2" fill="#333"/>
<text x="306.4" y="629.8" font-family='"Liberation Sans","Noto Sans CJK SC",sans-serif' font-size="8.6" text-anchor="middle" fill="#5a5a5a" font-weight="normal" transform="rotate(-90 306.4 629.8)">Ø23.5</text>
<line x1="208.1" y1="655.0" x2="218.4" y2="680.4" stroke="#333" stroke-width="0.94"/>
<line x1="218.4" y1="680.4" x2="231.5" y2="680.4" stroke="#333" stroke-width="0.94"/>
<text x="225.0" y="678.6" font-family='"Liberation Sans","Noto Sans CJK SC",sans-serif' font-size="8.4" text-anchor="middle" fill="#333" stroke="#333" stroke-width="0.18">1C</text>
<line x1="235.1" y1="649.0" x2="246.7" y2="680.4" stroke="#333" stroke-width="0.94"/>
<line x1="246.7" y1="680.4" x2="259.0" y2="680.4" stroke="#333" stroke-width="0.94"/>
<text x="253.0" y="678.6" font-family='"Liberation Sans","Noto Sans CJK SC",sans-serif' font-size="8.4" text-anchor="middle" fill="#333" stroke="#333" stroke-width="0.18">1C</text>
<text x="33.5" y="727.3" font-family='"Liberation Sans","Noto Sans CJK SC",sans-serif' font-size="14" text-anchor="start" fill="#333">CT20-R(精铰)</text>
<line x1="51.0" y1="808.0" x2="257.0" y2="808.0" stroke="#333" stroke-width="1.08" stroke-dasharray="22 3 4 3"/>
<path d="M68,778.3 L95.2,778.3 M68,837.7 L95.2,837.7" fill="none" stroke="#333" stroke-width="1.22"/>
<path d="M68,778.3 C62,787.3 62.5,799.0 67.6,808.0" fill="none" stroke="#333" stroke-width="1.22"/>
<path d="M67.6,808.0 C61.5,817.0 61.5,828.7 68,837.7" fill="none" stroke="#333" stroke-width="1.22"/>
<path d="M67.6,808.0 C75,817.0 75,828.7 68,837.7" fill="none" stroke="#333" stroke-width="1.22"/>
<line x1="83.3" y1="770.3" x2="150.4" y2="770.3" stroke="#333" stroke-width="1.22"/>
<line x1="83.3" y1="845.7" x2="150.4" y2="845.7" stroke="#333" stroke-width="1.22"/>
<line x1="84.6" y1="770.3" x2="84.6" y2="845.7" stroke="#333" stroke-width="0.94"/>
<polygon points="84.6,770.3 85.6,776.3 83.6,776.3" fill="#333"/>
<polygon points="84.6,845.7 83.6,839.7 85.6,839.7" fill="#333"/>
<line x1="95.2" y1="778.3" x2="95.2" y2="837.7" stroke="#333" stroke-width="1.22"/>
<line x1="109.3" y1="770.3" x2="109.3" y2="845.7" stroke="#333" stroke-width="1.22"/>
<path d="M95.2,778.3 Q106,777.3 109.3,770.3" fill="none" stroke="#333" stroke-width="1.22"/>
<path d="M95.2,837.7 Q106,838.7 109.3,845.7" fill="none" stroke="#333" stroke-width="1.22"/>
<text x="82.4" y="808.0" font-family='"Liberation Sans","Noto Sans CJK SC",sans-serif' font-size="8.4" text-anchor="middle" fill="#555" transform="rotate(-90 82.4 808.0)" stroke="#555" stroke-width="0.18">Ø30</text>
<line x1="150.4" y1="723.7" x2="150.4" y2="845.7" stroke="#333" stroke-width="1.22"/>
<line x1="150.4" y1="724.9" x2="234.6" y2="724.9" stroke="#333" stroke-width="0.94"/>
<polygon points="150.4,724.9 156.4,723.9 156.4,725.9" fill="#333"/>
<polygon points="234.6,724.9 228.6,725.9 228.6,723.9" fill="#333"/>
<text x="192.7" y="723.6" font-family='"Liberation Sans","Noto Sans CJK SC",sans-serif' font-size="8.6" text-anchor="middle" fill="#333" stroke="#333" stroke-width="0.18">33.5</text>
<line x1="150.4" y1="737.1" x2="210.7" y2="737.1" stroke="#333" stroke-width="0.94"/>
<polygon points="150.4,737.1 156.4,736.1 156.4,738.1" fill="#333"/>
<polygon points="210.7,737.1 204.7,738.1 204.7,736.1" fill="#333"/>
<text x="179.9" y="735.8" font-family='"Liberation Sans","Noto Sans CJK SC",sans-serif' font-size="8.6" text-anchor="middle" fill="#333" stroke="#333" stroke-width="0.18">24</text>
<line x1="138.0" y1="749.4" x2="188.3" y2="749.4" stroke="#333" stroke-width="0.94"/>
<polygon points="150.4,749.4 144.4,750.4 144.4,748.4" fill="#333"/>
<polygon points="160.6,749.4 166.6,748.4 166.6,750.4" fill="#333"/>
<text x="181.1" y="748.0" font-family='"Liberation Sans","Noto Sans CJK SC",sans-serif' font-size="8.6" text-anchor="middle" fill="#333" stroke="#333" stroke-width="0.18">4.3</text>
<line x1="138.0" y1="759.2" x2="186.3" y2="759.2" stroke="#333" stroke-width="0.94"/>
<polygon points="150.4,759.2 144.4,760.2 144.4,758.2" fill="#333"/>
<polygon points="159.4,759.2 165.4,758.2 165.4,760.2" fill="#333"/>
<text x="180.5" y="757.8" font-family='"Liberation Sans","Noto Sans CJK SC",sans-serif' font-size="8.6" text-anchor="middle" fill="#333" stroke="#333" stroke-width="0.18">3.5</text>
<line x1="160.6" y1="748.0" x2="160.6" y2="780.0" stroke="#333" stroke-width="0.94"/>
<line x1="159.4" y1="758.0" x2="159.4" y2="836.0" stroke="#333" stroke-width="1.22"/>
<line x1="130.5" y1="772.2" x2="160.0" y2="780.2" stroke="#333" stroke-width="1.08"/>
<line x1="129.0" y1="780.9" x2="160.0" y2="780.9" stroke="#333" stroke-width="1.49"/>
<path d="M135,761.5 Q128.5,777 134,792.5" fill="none" stroke="#333" stroke-width="0.94"/>
<polygon points="135.2,761.0 134.1,766.4 132.3,765.7" fill="#333"/>
<polygon points="134.2,793.0 131.5,788.2 133.2,787.6" fill="#333"/>
<text x="125.7" y="778.5" font-family='"Liberation Sans","Noto Sans CJK SC",sans-serif' font-size="8.4" text-anchor="middle" fill="#333" transform="rotate(-90 125.7 778.5)" stroke="#333" stroke-width="0.18">15°</text>
<rect x="160" y="780" width="141" height="2.4" fill="#7c7c7c"/>
<rect x="160" y="833.6" width="141" height="2.4" fill="#7c7c7c"/>
<line x1="159.4" y1="778.0" x2="316.1" y2="778.0" stroke="#333" stroke-width="1.22"/>
<line x1="159.4" y1="779.9" x2="302.1" y2="779.9" stroke="#333" stroke-width="1.22"/>
<line x1="159.4" y1="838.0" x2="316.1" y2="838.0" stroke="#333" stroke-width="1.22"/>
<line x1="159.4" y1="836.1" x2="302.1" y2="836.1" stroke="#333" stroke-width="1.22"/>
<line x1="161.0" y1="782.2" x2="279.5" y2="782.2" stroke="#333" stroke-width="0.94"/>
<line x1="161.0" y1="833.8" x2="279.5" y2="833.8" stroke="#333" stroke-width="0.94"/>
<line x1="161.0" y1="778.0" x2="161.0" y2="838.0" stroke="#333" stroke-width="1.22"/>
<line x1="210.7" y1="736.0" x2="210.7" y2="833.8" stroke="#333" stroke-width="1.22"/>
<line x1="212.6" y1="782.2" x2="212.6" y2="833.8" stroke="#333" stroke-width="1.08"/>
<path d="M212.6,785.5 Q213,788 215.5,788 L258.3,788" fill="none" stroke="#333" stroke-width="1.08"/>
<path d="M212.6,830.5 Q213,827.9 215.5,827.9 L258.3,827.9" fill="none" stroke="#333" stroke-width="1.08"/>
<line x1="232.6" y1="788.0" x2="232.6" y2="827.9" stroke="#333" stroke-width="1.22"/>
<line x1="234.6" y1="723.7" x2="234.6" y2="827.9" stroke="#333" stroke-width="1.22"/>
<rect x="222.0" y="804.5" width="3.2" height="6.6" rx="0" fill="none" stroke="#333" stroke-width="0.94"/>
<line x1="220.0" y1="808.0" x2="229.0" y2="808.0" stroke="#333" stroke-width="0.81"/>
<line x1="228.2" y1="803.6" x2="231.4" y2="803.6" stroke="#333" stroke-width="0.94"/>
<line x1="228.2" y1="812.2" x2="231.4" y2="812.2" stroke="#333" stroke-width="0.94"/>
<line x1="229.8" y1="803.6" x2="229.8" y2="812.2" stroke="#333" stroke-width="0.94"/>
<line x1="215.3" y1="757.1" x2="232.6" y2="787.3" stroke="#333" stroke-width="1.08"/>
<path d="M215.3,757.1 Q224,753 233.5,752.5" fill="none" stroke="#333" stroke-width="0.94"/>
<polygon points="215.0,757.3 219.5,754.2 220.3,755.9" fill="#333"/>
<polygon points="234.2,752.5 228.9,753.7 228.8,751.8" fill="#333"/>
<text x="224.9" y="751.2" font-family='"Liberation Sans","Noto Sans CJK SC",sans-serif' font-size="8.6" text-anchor="middle" fill="#333" transform="rotate(-12 224.9 751.2)" stroke="#333" stroke-width="0.18">29°</text>
<line x1="160.6" y1="779.9" x2="185.0" y2="805.0" stroke="#333" stroke-width="1.08"/>
<path d="M192.2,784 Q192,796.5 185,805" fill="none" stroke="#333" stroke-width="0.94"/>
<polygon points="192.2,783.5 193.0,788.9 191.1,788.9" fill="#333"/>
<polygon points="184.7,805.4 187.4,800.7 188.9,801.9" fill="#333"/>
<text x="188.0" y="796.4" font-family='"Liberation Sans","Noto Sans CJK SC",sans-serif' font-size="9.4" text-anchor="middle" fill="#333" transform="rotate(-64 188.0 796.4)" stroke="#333" stroke-width="0.18">45°</text>
<line x1="257.8" y1="788.0" x2="257.8" y2="827.9" stroke="#333" stroke-width="0.94"/>
<polygon points="257.8,788.0 258.8,794.0 256.8,794.0" fill="#333"/>
<polygon points="257.8,827.9 256.8,821.9 258.8,821.9" fill="#333"/>
<line x1="278.9" y1="782.2" x2="278.9" y2="833.8" stroke="#333" stroke-width="0.94"/>
<polygon points="278.9,782.2 279.9,788.2 277.9,788.2" fill="#333"/>
<polygon points="278.9,833.8 277.9,827.8 279.9,827.8" fill="#333"/>
<line x1="300.7" y1="779.9" x2="300.7" y2="836.1" stroke="#333" stroke-width="0.94"/>
<polygon points="300.7,779.9 301.7,785.9 299.7,785.9" fill="#333"/>
<polygon points="300.7,836.1 299.7,830.1 301.7,830.1" fill="#333"/>
<line x1="314.9" y1="778.0" x2="314.9" y2="838.0" stroke="#333" stroke-width="0.94"/>
<polygon points="314.9,778.0 315.9,784.0 313.9,784.0" fill="#333"/>
<polygon points="314.9,838.0 313.9,832.0 315.9,832.0" fill="#333"/>
<text x="255.6" y="808.0" font-family='"Liberation Sans","Noto Sans CJK SC",sans-serif' font-size="8.2" text-anchor="middle" fill="#5a5a5a" font-weight="normal" transform="rotate(-90 255.6 808.0)">Ø15.88</text>
<text x="265.6" y="808.0" font-family='"Liberation Sans","Noto Sans CJK SC",sans-serif' font-size="8.2" text-anchor="middle" fill="#5a5a5a" font-weight="normal" transform="rotate(-90 265.6 808.0)">Ø15.90</text>
<text x="276.4" y="808.0" font-family='"Liberation Sans","Noto Sans CJK SC",sans-serif' font-size="8.2" text-anchor="middle" fill="#5a5a5a" font-weight="normal" transform="rotate(-90 276.4 808.0)">Ø20.60</text>
<text x="286.8" y="808.0" font-family='"Liberation Sans","Noto Sans CJK SC",sans-serif' font-size="8.2" text-anchor="middle" fill="#5a5a5a" font-weight="normal" transform="rotate(-90 286.8 808.0)">Ø20.65</text>
<text x="298.5" y="808.0" font-family='"Liberation Sans","Noto Sans CJK SC",sans-serif' font-size="8.2" text-anchor="middle" fill="#5a5a5a" font-weight="normal" transform="rotate(-90 298.5 808.0)">Ø22.11</text>
<text x="312.7" y="808.0" font-family='"Liberation Sans","Noto Sans CJK SC",sans-serif' font-size="8.2" text-anchor="middle" fill="#5a5a5a" font-weight="normal" transform="rotate(-90 312.7 808.0)">Ø24.0±0.03</text>
<circle cx="150.8" cy="836.5" r="12.3" fill="none" stroke="#333" stroke-width="1.35" stroke-dasharray="6 3"/>
<circle cx="212.0" cy="828.3" r="12.3" fill="none" stroke="#333" stroke-width="1.35" stroke-dasharray="6 3"/>
<line x1="156.0" y1="847.8" x2="162.4" y2="864.6" stroke="#333" stroke-width="0.94"/>
<line x1="218.8" y1="838.6" x2="235.9" y2="865.4" stroke="#333" stroke-width="0.94"/>
<circle cx="170.1" cy="887.1" r="23.7" fill="none" stroke="#333" stroke-width="1.35" stroke-dasharray="7 3.5"/>
<clipPath id="da"><circle cx="170.1" cy="887.1" r="23.2"/></clipPath><g clip-path="url(#da)">
<line x1="169.6" y1="862.0" x2="169.6" y2="901.5" stroke="#333" stroke-width="1.22"/>
<line x1="145.0" y1="901.5" x2="169.6" y2="901.5" stroke="#333" stroke-width="1.22"/>
<path d="M169.6,887.3 L184,882.8 Q188.5,881.2 189,876" fill="none" stroke="#333" stroke-width="1.22"/>
<line x1="184.2" y1="869.0" x2="184.2" y2="882.6" stroke="#333" stroke-width="1.08"/>
<path d="M184.2,872 Q188.6,875 189,881" fill="none" stroke="#333" stroke-width="1.08"/>
</g>
<line x1="169.9" y1="889.9" x2="202.3" y2="921.3" stroke="#333" stroke-width="0.94"/>
<polygon points="169.6,889.6 174.1,892.7 172.8,894.0" fill="#333"/>
<text x="189.2" y="906.2" font-family='"Liberation Sans","Noto Sans CJK SC",sans-serif' font-size="8.6" text-anchor="start" fill="#333" transform="rotate(44 189.2 906.2)" stroke="#333" stroke-width="0.18">R0.3</text>
<circle cx="249.3" cy="887.1" r="23.7" fill="none" stroke="#333" stroke-width="1.35" stroke-dasharray="7 3.5"/>
<clipPath id="db"><circle cx="249.3" cy="887.1" r="23.2"/></clipPath><g clip-path="url(#db)">
<line x1="247.5" y1="862.0" x2="247.5" y2="888.0" stroke="#333" stroke-width="1.22"/>
<line x1="252.3" y1="862.0" x2="252.3" y2="886.5" stroke="#333" stroke-width="1.22"/>
<line x1="249.5" y1="862.0" x2="249.5" y2="884.0" stroke="#333" stroke-width="0.81"/>
<path d="M225,897.4 L243.5,897.4 Q246.8,896.8 247.5,888" fill="none" stroke="#333" stroke-width="1.22"/>
<path d="M252.3,886.5 Q255,884.5 262,884 L274,882.5" fill="none" stroke="#333" stroke-width="1.22"/>
</g>
<line x1="207.4" y1="869.9" x2="245.6" y2="894.0" stroke="#333" stroke-width="0.94"/>
<polygon points="246.0,894.3 240.9,892.2 241.9,890.6" fill="#333"/>
<text x="209.2" y="867.6" font-family='"Liberation Sans","Noto Sans CJK SC",sans-serif' font-size="8.6" text-anchor="start" fill="#333" transform="rotate(32.5 209.2 867.6)" stroke="#333" stroke-width="0.18">R0.7</text>
<line x1="251.4" y1="888.9" x2="283.3" y2="921.3" stroke="#333" stroke-width="0.94"/>
<polygon points="251.1,888.6 255.6,891.8 254.2,893.1" fill="#333"/>
<text x="268.6" y="905.3" font-family='"Liberation Sans","Noto Sans CJK SC",sans-serif' font-size="8.6" text-anchor="start" fill="#333" transform="rotate(45.4 268.6 905.3)" stroke="#333" stroke-width="0.18">R1.5</text>
</svg></body></html>
